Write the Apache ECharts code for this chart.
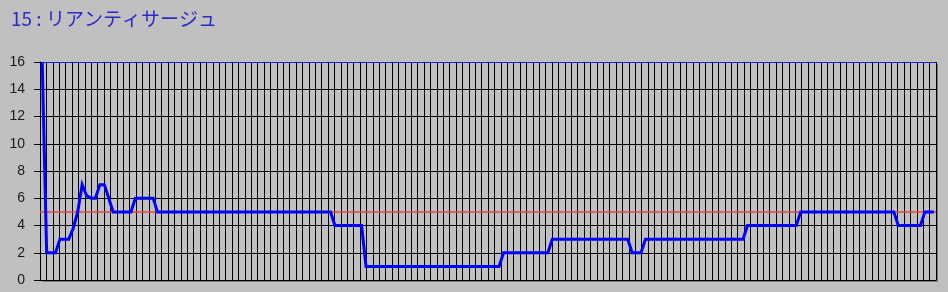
<!DOCTYPE html>
<html>
<head>
<meta charset="utf-8">
<script src="https://cdn.jsdelivr.net/npm/echarts@6/dist/echarts.min.js"></script>
<style>
  html, body { margin: 0; padding: 0; background: #c0c0c0; }
  #chart { width: 948px; height: 292px; }
</style>
</head>
<body>
<div id="chart"></div>
<script>
const chartTitle = '15 : リアンティサージュ';
const values = [
  16, 2, 2, 2, 3, 3, 3, 3.8, 5, 7,
  6.2, 6, 6, 7, 7, 6, 5, 5, 5, 5,
  5, 6, 6, 6, 6, 6, 5, 5, 5, 5,
  5, 5, 5, 5, 5, 5, 5, 5, 5, 5,
  5, 5, 5, 5, 5, 5, 5, 5, 5, 5,
  5, 5, 5, 5, 5, 5, 5, 5, 5, 5,
  5, 5, 5, 5, 5, 5, 4, 4, 4, 4,
  4, 4, 4, 1, 1, 1, 1, 1, 1, 1,
  1, 1, 1, 1, 1, 1, 1, 1, 1, 1,
  1, 1, 1, 1, 1, 1, 1, 1, 1, 1,
  1, 1, 1, 1, 2, 2, 2, 2, 2, 2,
  2, 2, 2, 2, 2, 3, 3, 3, 3, 3,
  3, 3, 3, 3, 3, 3, 3, 3, 3, 3,
  3, 3, 3, 2, 2, 2, 3, 3, 3, 3,
  3, 3, 3, 3, 3, 3, 3, 3, 3, 3,
  3, 3, 3, 3, 3, 3, 3, 3, 3, 4,
  4, 4, 4, 4, 4, 4, 4, 4, 4, 4,
  4, 5, 5, 5, 5, 5, 5, 5, 5, 5,
  5, 5, 5, 5, 5, 5, 5, 5, 5, 5,
  5, 5, 5, 4, 4, 4, 4, 4, 4, 5,
  5, 5
];
const categories = values.map((_, i) => String(i + 1));
const refLevel = 5;
const yTicks = [0, 2, 4, 6, 8, 10, 12, 14, 16];
const gridDivisions = 140;

const chart = echarts.init(document.getElementById('chart'), null, { renderer: 'canvas' });
const splitColors = yTicks.map((t, i) => (i === yTicks.length - 1 ? '#1a1aff' : '#000000'));

chart.setOption({
  animation: false,
  backgroundColor: '#c0c0c0',
  title: {
    text: chartTitle,
    left: 6,
    top: 4,
    textStyle: {
      fontFamily: '"Noto Sans CJK JP", sans-serif',
      fontSize: 19,
      fontWeight: 'normal',
      color: '#2a2ac8'
    }
  },
  grid: {
    left: 40,
    right: 12,
    top: 62,
    bottom: 12,
    show: true,
    backgroundColor: '#c0c0c0',
    borderWidth: 0,
    shadowColor: '#7a7a7a',
    shadowBlur: 0,
    shadowOffsetX: 2,
    shadowOffsetY: 2
  },
  xAxis: [
    {
      type: 'category',
      data: categories,
      boundaryGap: true,
      axisLine: { show: true, lineStyle: { color: '#000', width: 1 } },
      axisTick: { show: false },
      axisLabel: { show: false },
      splitLine: { show: false }
    },
    {
      type: 'value',
      min: 0,
      max: gridDivisions,
      interval: 1,
      position: 'bottom',
      axisLine: { show: false },
      axisTick: { show: false },
      axisLabel: { show: false },
      splitLine: { show: true, lineStyle: { color: '#000', width: 1 } }
    }
  ],
  yAxis: {
    type: 'value',
    min: yTicks[0],
    max: yTicks[yTicks.length - 1],
    interval: 2,
    axisLine: { show: true, lineStyle: { color: '#000', width: 1 } },
    axisTick: { show: true, length: 6, lineStyle: { color: '#000' } },
    axisLabel: {
      margin: 15,
      fontSize: 14,
      color: '#1a1a1a',
      fontFamily: '"Liberation Sans", Arial, sans-serif'
    },
    splitLine: { show: true, lineStyle: { color: splitColors, width: 1 } }
  },
  series: [
    {
      type: 'line',
      xAxisIndex: 0,
      data: [],
      z: 1,
      silent: true,
      markLine: {
        silent: true,
        symbol: 'none',
        label: { show: false },
        lineStyle: { color: '#e84040', width: 1.5, type: 'solid' },
        data: [{ yAxis: refLevel }]
      }
    },
    {
      type: 'line',
      xAxisIndex: 0,
      data: values,
      z: 5,
      showSymbol: false,
      symbol: 'none',
      clip: true,
      lineStyle: { color: '#0000ff', width: 3, join: 'miter' }
    }
  ]
});
</script>
</body>
</html>
